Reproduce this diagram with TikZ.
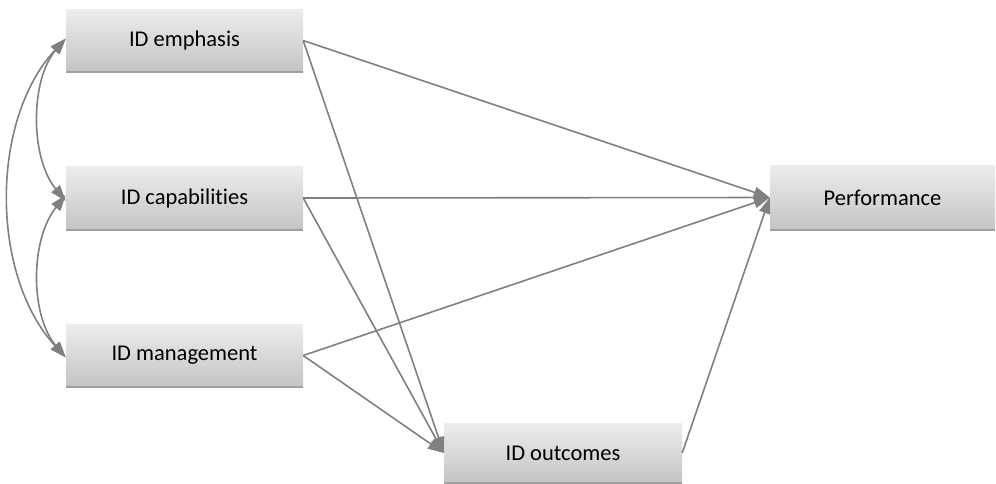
\documentclass[tikz,border=0pt]{standalone}
\usepackage{fontspec}
\setmainfont[RawFeature={-liga}]{Carlito}
\usetikzlibrary{arrows.meta}
\definecolor{linegray}{RGB}{128,128,128}
\definecolor{boxtop}{RGB}{237,237,237}
\definecolor{boxbot}{RGB}{196,196,196}
\definecolor{boxedge}{RGB}{160,160,160}
\begin{document}
\begin{tikzpicture}[x=1pt,y=-1pt,
  box/.style={rectangle, top color=boxtop, bottom color=boxbot, draw=none,
    minimum width=237pt, minimum height=63pt, inner sep=0pt,
    font=\fontsize{22.5}{27}\selectfont,
    path picture={\draw[boxedge, line width=2.5pt] (path picture bounding box.south west) -- (path picture bounding box.south east);}},
  conn/.style={draw=linegray, line width=1.6pt, -{Triangle[length=16pt,width=11pt]}},
  dconn/.style={draw=linegray, line width=1.6pt, {Triangle[length=16pt,width=11pt]}-{Triangle[length=16pt,width=11pt]}}
]
\useasboundingbox (0,0) rectangle (996,483);
\node[box] (emph) at (184.5,40.5) {ID emphasis};
\node[box, minimum height=64pt] (cap) at (184.5,198) {ID capabilities};
\node[box] (mgmt) at (184.5,355.5) {ID management};
\node[box, minimum width=238pt, minimum height=60pt] (outc) at (563,453) {ID outcomes};
\node[box, minimum width=225pt, minimum height=65pt] (perf) at (882.5,197.5) {Performance};

\draw[conn] (emph.east) -- (perf.west);
\draw[conn] (cap.east) -- (perf.west);
\draw[conn] (mgmt.east) -- (perf.west);
\draw[conn] (outc.east) -- (perf.west);
\draw[conn] (emph.east) -- (outc.west);
\draw[conn] (cap.east) -- (outc.west);
\draw[conn] (mgmt.east) -- (outc.west);

\coordinate (e1) at ([yshift=2pt]emph.west);
\coordinate (c1) at ([yshift=-3pt]cap.west);
\coordinate (c2) at ([yshift=3pt]cap.west);
\coordinate (m1) at ([yshift=-2pt]mgmt.west);
\draw[dconn] (e1) .. controls (30,80) and (30,158) .. (c1);
\draw[dconn] (c2) .. controls (30,240) and (30,315) .. (m1);
\draw[dconn] (e1) .. controls (-10,120) and (-10,275) .. (m1);
\end{tikzpicture}
\end{document}
